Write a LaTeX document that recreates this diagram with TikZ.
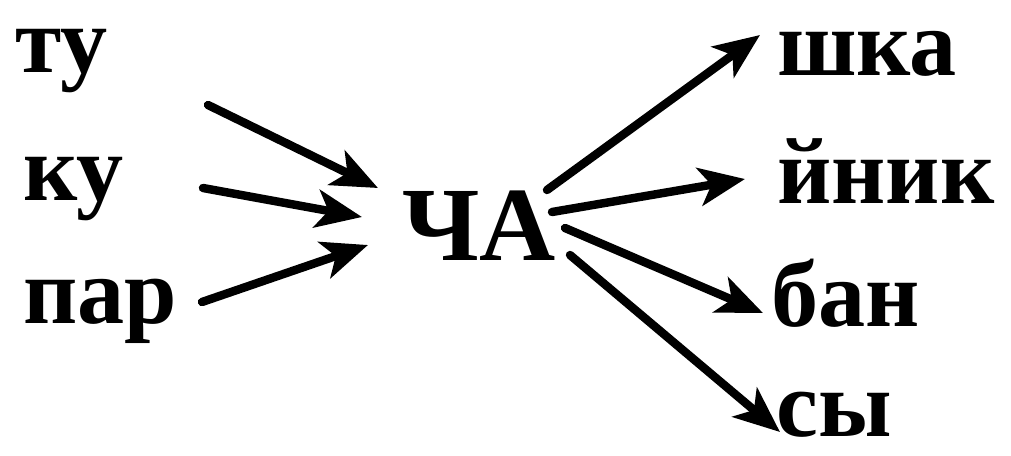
\documentclass[tikz,border=0pt]{standalone}
\usepackage{fontspec}
\setmainfont{Liberation Serif}
\usepackage{tikz}
\usetikzlibrary{arrows.meta}
\tikzset{
  syl/.style={inner sep=0pt, anchor=base west,
              font=\fontsize{67}{70}\selectfont\bfseries},
  root/.style={syl, font=\fontsize{75}{78}\selectfont\bfseries},
  arr/.style={-{Stealth[length=1.15cm, width=0.95cm, inset=0.3cm]},
              line width=6pt, line cap=round},
}

\begin{document}
\begin{tikzpicture}[x=0.025cm, y=-0.025cm]
  \useasboundingbox (0,0) rectangle (1011,455);

  % Left column: beginnings
  \node[syl] (tu)  at (15,72)  {ту};
  \node[syl] (ku)  at (23,200) {ку};
  \node[syl] (par) at (23,323) {пар};

  % Middle
  \node[root] (cha) at (402,260) {ЧА};

  % Right column: endings
  \node[syl] (shka) at (777,75)  {шка};
  \node[syl] (jnik) at (777,203) {йник};
  \node[syl] (ban)  at (771,326) {бан};
  \node[syl] (sy)   at (776,436) {сы};

  % Arrow ends
  \coordinate (tu-out)   at (208,105);
  \coordinate (ku-out)   at (203,188);
  \coordinate (par-out)  at (202,302);
  \coordinate (cha-in1)  at (378,188);
  \coordinate (cha-in2)  at (362,217);
  \coordinate (cha-in3)  at (368,245);
  \coordinate (cha-out1) at (547,190);
  \coordinate (cha-out2) at (552,212);
  \coordinate (cha-out3) at (565,228);
  \coordinate (cha-out4) at (570,255);
  \coordinate (shka-in)  at (760,35);
  \coordinate (jnik-in)  at (745,179);
  \coordinate (ban-in)   at (763,313);
  \coordinate (sy-in)    at (780,432);

  % Arrows
  \draw[arr] (tu-out)   -- (cha-in1);
  \draw[arr] (ku-out)   -- (cha-in2);
  \draw[arr] (par-out)  -- (cha-in3);
  \draw[arr] (cha-out1) -- (shka-in);
  \draw[arr] (cha-out2) -- (jnik-in);
  \draw[arr] (cha-out3) -- (ban-in);
  \draw[arr] (cha-out4) -- (sy-in);
\end{tikzpicture}
\end{document}
